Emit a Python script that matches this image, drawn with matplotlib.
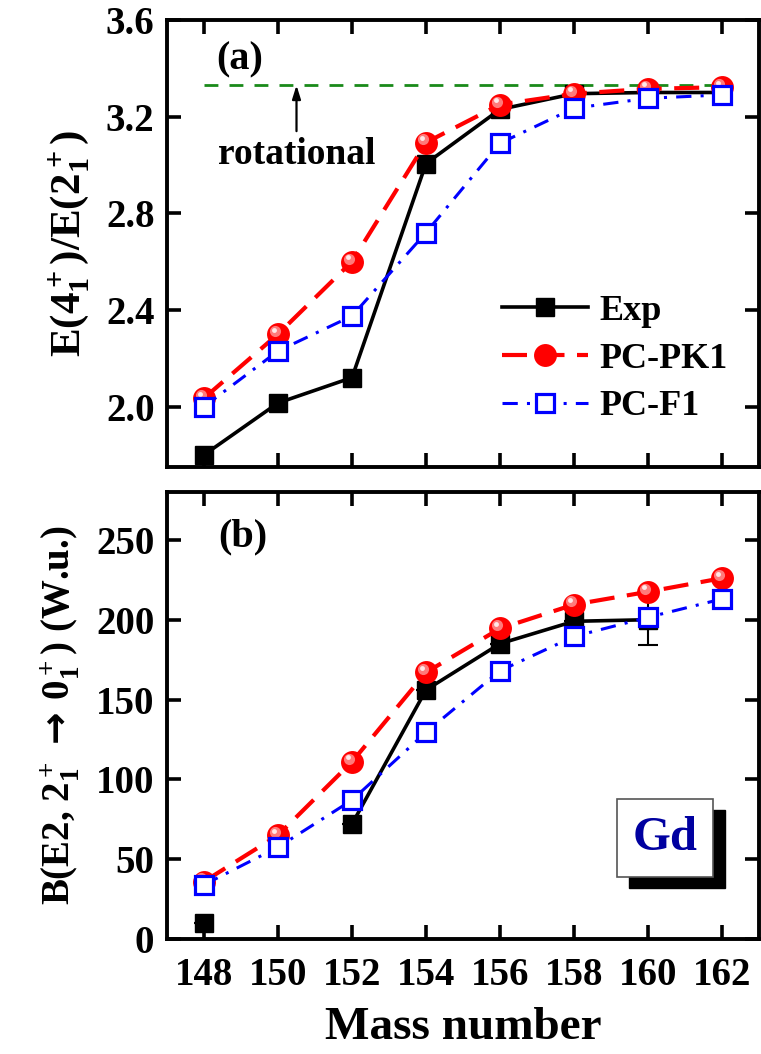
import numpy as np
import matplotlib
matplotlib.use("Agg")
import matplotlib.pyplot as plt
from matplotlib.transforms import ScaledTranslation
from matplotlib.patches import Rectangle

plt.rcParams['font.family'] = ['Liberation Serif', 'DejaVu Serif']
plt.rcParams['font.weight'] = 'bold'
plt.rcParams['axes.labelweight'] = 'bold'
plt.rcParams['mathtext.fontset'] = 'custom'
plt.rcParams['mathtext.rm'] = 'Liberation Serif:bold'
plt.rcParams['mathtext.it'] = 'Liberation Serif:bold'
plt.rcParams['mathtext.bf'] = 'Liberation Serif:bold'
plt.rcParams['mathtext.sf'] = 'DejaVu Sans'
plt.rcParams['mathtext.default'] = 'rm'

# ---- data ----
mass = [148, 150, 152, 154, 156, 158, 160, 162]

r42_exp = [1.80, 2.015, 2.12, 3.006, 3.23, 3.295, 3.30, 3.30]
r42_pk1 = [2.035, 2.30, 2.60, 3.093, 3.25, 3.295, 3.315, 3.322]
r42_f1 = [2.00, 2.23, 2.375, 2.72, 3.09, 3.235, 3.276, 3.29]
rot_limit = 3.33

be2_exp = [10, np.nan, 72, 156, 185, 199, 200, np.nan]
be2_exp_err = [0, 0, 0, 0, 0, 0, 16, 0]
be2_pk1 = [36, 65, 111, 167, 194.5, 209.5, 217.5, 226]
be2_f1 = [34, 57.5, 87, 129.5, 168, 189.5, 201.5, 213]

xticks = [148, 150, 152, 154, 156, 158, 160, 162]
yticks_a = [2.0, 2.4, 2.8, 3.2, 3.6]
yticks_b = [0, 50, 100, 150, 200, 250]

fig = plt.figure(figsize=(7.61, 10.54), dpi=100)
L, R = 167/761, 759/761
axa = fig.add_axes([L, 1-467/1054, R-L, (467-20)/1054])
axb = fig.add_axes([L, 1-939/1054, R-L, (939-492)/1054])

red = '#ff0000'
blue = '#0000ff'


def sphere(ax, x, y, z):
    ax.plot(x, y, ls='none', marker='o', ms=16.5, mfc=red, mec=red, mew=0, zorder=z)
    tr1 = ax.transData + ScaledTranslation(-2.2/72, 2.2/72, fig.dpi_scale_trans)
    ax.plot(x, y, ls='none', marker='o', ms=8, mfc='#ff7a7a', mec='none', zorder=z+0.1, transform=tr1)
    tr2 = ax.transData + ScaledTranslation(-3.2/72, 3.2/72, fig.dpi_scale_trans)
    ax.plot(x, y, ls='none', marker='o', ms=3.5, mfc='#ffe8e8', mec='none', zorder=z+0.2, transform=tr2)


def draw(ax, exp, pk1, f1, err=None):
    ax.plot(mass, exp, color='black', lw=2.6, marker='s', ms=13, mfc='black', mec='black', zorder=3, label='Exp')
    if err is not None:
        ax.errorbar(mass, exp, yerr=err, fmt='none', ecolor='black', elinewidth=1.5, capsize=7, capthick=1.5, zorder=2.9)
    ax.plot(mass, pk1, color=red, lw=3, dashes=(6, 3), zorder=4)
    sphere(ax, mass, pk1, 4.5)
    ax.plot(mass, f1, color=blue, lw=2.2, dashes=(5, 3, 1, 3), marker='s', ms=13, mfc='white', mec=blue, mew=2.3, zorder=5)


draw(axa, r42_exp, r42_pk1, r42_f1)
draw(axb, be2_exp, be2_pk1, be2_f1, err=be2_exp_err)

for ax in (axa, axb):
    ax.set_xlim(147.0, 163.0)
    ax.set_xticks(xticks)
    ax.tick_params(direction='in', length=10, width=2.6, top=True, right=True, labelsize=28, pad=9)
    for s in ax.spines.values():
        s.set_linewidth(2.8)
axb.tick_params(axis='x', pad=13)

axa.set_ylim(1.75, 3.6)
axa.set_yticks(yticks_a)
axa.set_yticklabels([f'{v:.1f}' for v in yticks_a])
axa.tick_params(labelbottom=False)
axb.set_ylim(0, 280)
axb.set_yticks(yticks_b)

axa.set_ylabel(r'E(4$_1^+$)/E(2$_1^+$)', fontsize=31, labelpad=10)
axb.set_ylabel(r'B(E2, 2$_1^+$$\,\mathsf{\rightarrow}\,$0$_1^+$) (W.u.)', fontsize=28, labelpad=10)
axb.set_xlabel('Mass number', fontsize=34, labelpad=9)

# rotational limit
axa.plot([mass[0], mass[-1]], [rot_limit, rot_limit], color='#1a8a1a', lw=2, dashes=(5, 4), zorder=1)
axa.annotate('', xy=(150.5, rot_limit), xytext=(150.5, 3.14),
             arrowprops=dict(arrowstyle='-|>,head_length=0.8,head_width=0.25', color='black', lw=1.6, shrinkA=0, shrinkB=0))
axa.text(150.5, 3.045, 'rotational', fontsize=27, ha='center', va='center')

axa.text(0.123, 0.91, '(a)', transform=axa.transAxes, fontsize=29, ha='center', va='center')
axb.text(0.128, 0.90, '(b)', transform=axb.transAxes, fontsize=29, ha='center', va='center')

# legend
h_exp, = axa.plot([], [], color='black', lw=2.6, marker='s', ms=13, mfc='black')
h_pk1, = axa.plot([], [], color=red, lw=3, dashes=(6, 3), marker='o', ms=16.5, mfc=red, mec=red, mew=0)
h_f1, = axa.plot([], [], color=blue, lw=2.2, dashes=(5, 3, 1, 3), marker='s', ms=13, mfc='white', mec=blue, mew=2.3)
axa.legend([h_exp, h_pk1, h_f1], ['Exp', 'PC-PK1', 'PC-F1'], loc='lower left', bbox_to_anchor=(0.535, 0.057),
           frameon=False, fontsize=26, handlelength=2.4, handletextpad=0.3, labelspacing=0.4, borderpad=0)

# Gd box with shadow
shx, shy = 12/592, 11/447
axb.add_patch(Rectangle((0.76+shx, 0.139-shy), 0.162, 0.174, transform=axb.transAxes,
                        facecolor='black', edgecolor='black', zorder=6))
axb.add_patch(Rectangle((0.76, 0.139), 0.162, 0.174, transform=axb.transAxes,
                        facecolor='white', edgecolor='#555555', lw=1.2, zorder=7))
axb.text(0.841, 0.226, 'Gd', transform=axb.transAxes, fontsize=35, color='#0000a0',
         ha='center', va='center', zorder=8)

fig.savefig('out.png', dpi=100)
